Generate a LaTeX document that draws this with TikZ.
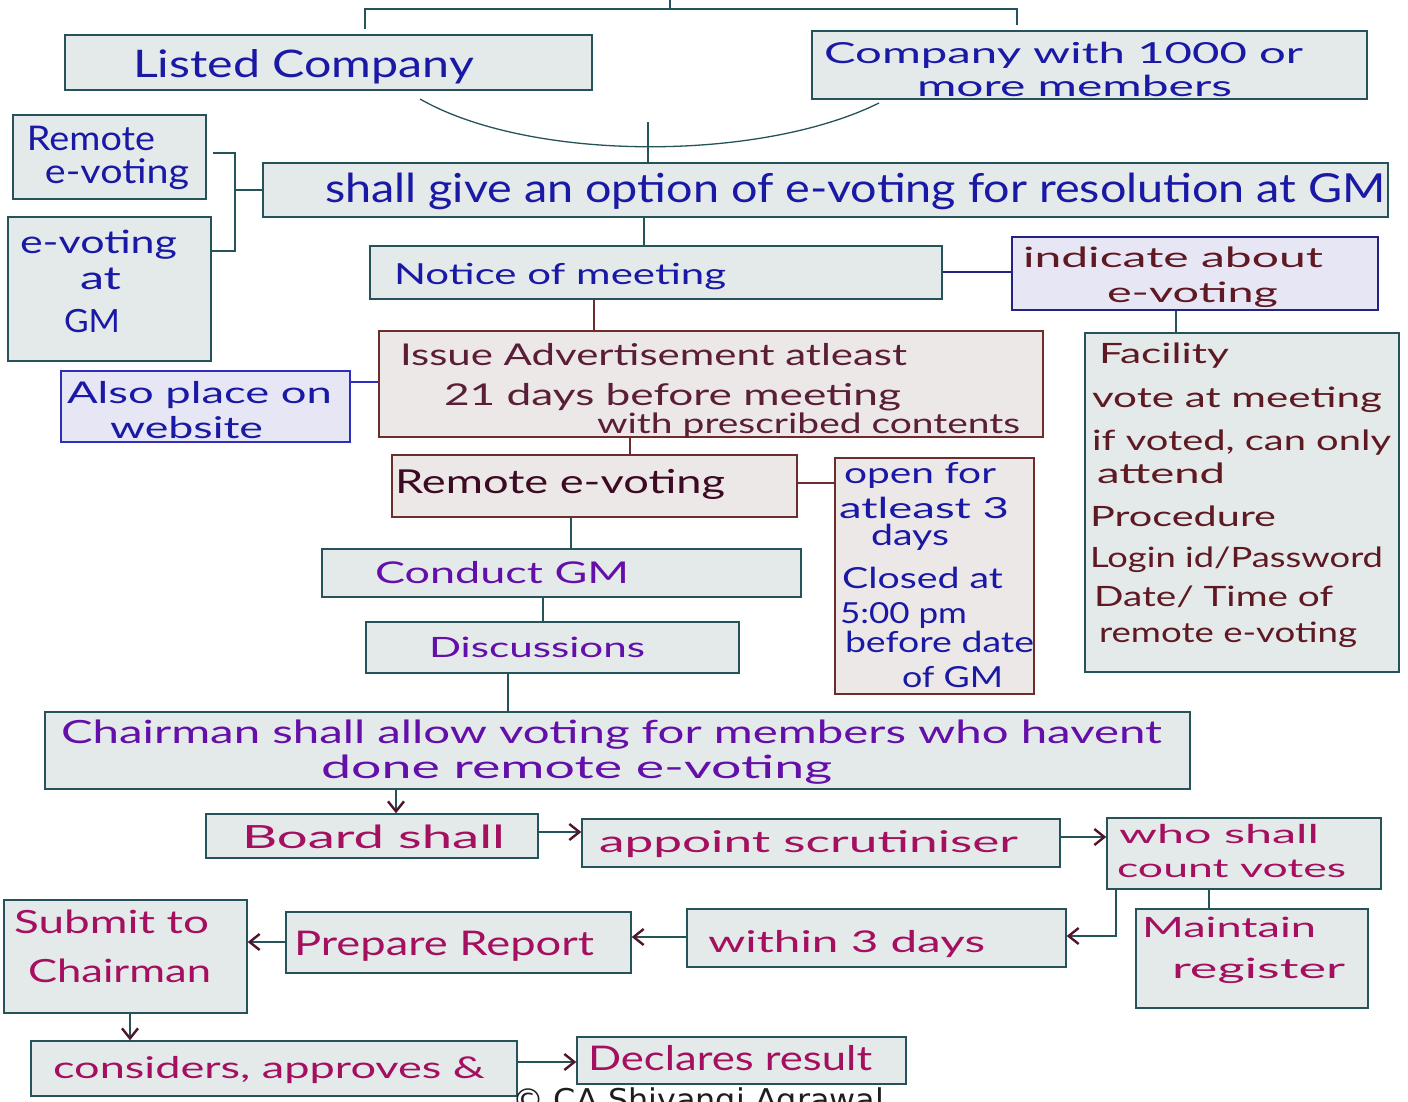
\documentclass[tikz,border=0pt]{standalone}
\usepackage{fontspec}
\usepackage{graphicx}
\newfontfamily\hand{Lato}
\newfontfamily\cprfont{DejaVu Sans}
\usetikzlibrary{arrows.meta,fit}
\definecolor{gfill}{RGB}{228,234,234}
\definecolor{pfill}{RGB}{237,232,232}
\definecolor{lfill}{RGB}{230,230,244}
\definecolor{teal}{RGB}{38,82,90}
\definecolor{mbord}{RGB}{110,45,45}
\definecolor{bbord}{RGB}{45,45,190}
\definecolor{navy}{RGB}{35,35,130}
\definecolor{tblue}{RGB}{25,25,165}
\definecolor{tmaroon}{RGB}{95,25,35}
\definecolor{tmar2}{RGB}{90,30,55}
\definecolor{tdark}{RGB}{60,10,35}
\definecolor{tpurple}{RGB}{100,15,170}
\definecolor{tmag}{RGB}{165,15,95}
\definecolor{arrc}{RGB}{80,20,45}
\newcommand\fw[3]{\resizebox{#1pt}{\height}{\fontsize{#2pt}{#2pt}\selectfont\hand #3}}
\tikzset{
  gbox/.style={draw=teal, fill=gfill, line width=1.5pt, inner sep=0pt},
  pbox/.style={draw=mbord, fill=pfill, line width=1.5pt, inner sep=0pt},
  lbox/.style={draw=bbord, fill=lfill, line width=1.5pt, inner sep=0pt},
  hw/.style={anchor=base west, inner sep=0pt, outer sep=0pt},
  cn/.style={draw=teal, line width=1.3pt},
  ar/.style={cn, -{Straight Barb[length=10pt,width=16pt,line width=2.4pt,color=arrc]}}
}
\begin{document}
\begin{tikzpicture}[x=1pt,y=-1pt]
\useasboundingbox (0,0) rectangle (1408,1101);
\fill[white] (0,0) rectangle (1408,1101);

% boxes
\node[gbox, fit={(65,35)(592,90)}] (lc) {};
\node[gbox, fit={(812,31)(1367,99)}] (cm) {};
\node[gbox, fit={(263,163)(1388,217)}] (sg) {};
\node[gbox, fit={(13,115)(206,199)}] (rv1) {};
\node[gbox, fit={(8,217)(211,361)}] (ev) {};
\node[gbox, fit={(370,246)(942,299)}] (nm) {};
\node[lbox, draw=navy, fit={(1012,237)(1378,310)}] (ind) {};
\node[gbox, fit={(1085,333)(1399,672)}] (fac) {};
\node[pbox, fit={(379,331)(1043,437)}] (ia) {};
\node[lbox, fit={(61,371)(350,442)}] (ap) {};
\node[pbox, fit={(392,455)(797,517)}] (rv2) {};
\node[pbox, fit={(835,458)(1034,694)}] (op) {};
\node[gbox, fit={(322,549)(801,597)}] (cg) {};
\node[gbox, fit={(366,622)(739,673)}] (ds) {};
\node[gbox, fit={(45,712)(1190,789)}] (ch) {};
\node[gbox, fit={(206,814)(538,858)}] (bs) {};
\node[gbox, fit={(582,819)(1060,867)}] (as) {};
\node[gbox, fit={(1107,818)(1381,889)}] (who) {};
\node[gbox, fit={(1136,909)(1368,1008)}] (mr) {};
\node[gbox, fit={(687,909)(1066,967)}] (wi) {};
\node[gbox, fit={(286,912)(631,973)}] (pr) {};
\node[gbox, fit={(4,900)(247,1013)}] (sc) {};
\node[gbox, fit={(31,1041)(517,1096)}] (co) {};
\node[gbox, fit={(577,1037)(906,1084)}] (dr) {};

% connectors
\coordinate (topL) at (365,29);
\coordinate (topR) at (1017,25);
\coordinate (topM) at (670,0);
\draw[cn] (topL) |- (topR |- 0,9) -- (topR);
\draw[cn] (topM) -- (670,9);
\coordinate (arcA) at (420,99);
\coordinate (arcB) at (879,103);
\coordinate (arcM) at (648,122);
\draw[cn] (arcA) .. controls (530,162) and (760,162) .. (arcB);
\draw[cn] (arcM) -- (sg.north -| 648,0);
\coordinate (brA) at (213,153);
\draw[cn] (brA) -| (235,251) -- (ev.east |- 0,251);
\draw[cn] (235,190) -- (sg.west |- 0,190);
\draw[cn] (sg.south -| 644,0) -- (nm.north -| 644,0);
\draw[draw=navy, line width=1.3pt] (nm.east |- 0,272) -- (ind.west |- 0,272);
\draw[draw=mbord, line width=1.3pt] (nm.south -| 594,0) -- (ia.north -| 594,0);
\draw[cn] (ind.south -| 1176,0) -- (fac.north -| 1176,0);
\draw[draw=bbord, line width=1.3pt] (ap.east |- 0,382) -- (ia.west |- 0,382);
\draw[draw=mbord, line width=1.3pt] (ia.south -| 630,0) -- (rv2.north -| 630,0);
\draw[draw=mbord, line width=1.3pt] (rv2.east |- 0,483) -- (op.west |- 0,483);
\draw[cn] (rv2.south -| 571,0) -- (cg.north -| 571,0);
\draw[cn] (cg.south -| 543,0) -- (ds.north -| 543,0);
\draw[cn] (ds.south -| 508,0) -- (ch.north -| 508,0);
\draw[ar] (ch.south -| 396,0) -- (bs.north -| 396,0);
\draw[ar] (bs.east |- 0,832) -- (as.west |- 0,832);
\draw[ar] (as.east |- 0,837) -- (who.west |- 0,837);
\draw[cn] (who.south -| 1209,0) -- (mr.north -| 1209,0);
\draw[ar] (who.south -| 1116,0) |- (wi.east |- 0,936);
\draw[ar] (wi.west |- 0,937) -- (pr.east |- 0,937);
\draw[ar] (pr.west |- 0,942) -- (sc.east |- 0,942);
\draw[ar] (sc.south -| 130,0) -- (co.north -| 130,0);
\draw[ar] (co.east |- 0,1062) -- (dr.west |- 0,1062);

% texts
\node[hw, text=tblue] (t1) at (133,77) {\fw{341}{38}{Listed Company}};
\node[hw, text=tblue] (t2) at (824,63) {\fw{479}{29}{Company with 1000 or}};
\node[hw, text=tblue] (t3) at (917,96) {\fw{315}{29}{more members}};
\node[hw, text=tblue] (t4) at (325,202) {\fw{1061}{40}{shall give an option of e-voting for resolution at GM}};
\node[hw, text=tblue] (t5) at (27,150) {\fw{128}{34}{Remote}};
\node[hw, text=tblue] (t6) at (45,183) {\fw{144}{34}{e-voting}};
\node[hw, text=tblue] (t7) at (20,253) {\fw{157}{32}{e-voting}};
\node[hw, text=tblue] (t8) at (80,289) {\fw{41}{32}{at}};
\node[hw, text=tblue] (t9) at (64,332) {\fw{56}{32}{GM}};
\node[hw, text=tblue] (t10) at (394,284) {\fw{332}{29}{Notice of meeting}};
\node[hw, text=tmaroon] (t11) at (1023,267) {\fw{300}{28}{indicate about}};
\node[hw, text=tmaroon] (t12) at (1107,302) {\fw{171}{28}{e-voting}};
\node[hw, text=tmaroon] (t13) at (1099,363) {\fw{130}{28}{Facility}};
\node[hw, text=tmaroon] (t14) at (1092,407) {\fw{290}{28}{vote at meeting}};
\node[hw, text=tmaroon] (t15) at (1092,450) {\fw{299}{28}{if voted, can only}};
\node[hw, text=tmaroon] (t16) at (1097,483) {\fw{128}{28}{attend}};
\node[hw, text=tmaroon] (t17) at (1090,526) {\fw{186}{28}{Procedure}};
\node[hw, text=tmaroon] (t18) at (1090,567) {\fw{293}{28}{Login id/Password}};
\node[hw, text=tmaroon] (t19) at (1094,606) {\fw{239}{28}{Date/ Time of}};
\node[hw, text=tmaroon] (t20) at (1099,642) {\fw{258}{28}{remote e-voting}};
\node[hw, text=tmar2] (t21) at (400,365) {\fw{507}{30}{Issue Advertisement atleast}};
\node[hw, text=tmar2] (t22) at (444,405) {\fw{457}{30}{21 days before meeting}};
\node[hw, text=tmar2] (t23) at (597,433) {\fw{423}{28}{with prescribed contents}};
\node[hw, text=tblue] (t24) at (67,403) {\fw{265}{30}{Also place on}};
\node[hw, text=tblue] (t25) at (110,438) {\fw{153}{30}{website}};
\node[hw, text=tdark] (t26) at (395,493) {\fw{330}{33}{Remote e-voting}};
\node[hw, text=tblue] (t27) at (844,483) {\fw{152}{29}{open for}};
\node[hw, text=tblue] (t28) at (839,518) {\fw{170}{29}{atleast 3}};
\node[hw, text=tblue] (t29) at (871,545) {\fw{78}{29}{days}};
\node[hw, text=tblue] (t30) at (842,588) {\fw{161}{29}{Closed at}};
\node[hw, text=tblue] (t31) at (840,623) {\fw{127}{29}{5:00 pm}};
\node[hw, text=tblue] (t32) at (845,652) {\fw{189}{29}{before date}};
\node[hw, text=tblue] (t33) at (902,687) {\fw{101}{29}{of GM}};
\node[hw, text=tpurple] (t34) at (375,583) {\fw{254}{30}{Conduct GM}};
\node[hw, text=tpurple] (t35) at (429,657) {\fw{216}{28}{Discussions}};
\node[hw, text=tpurple] (t36) at (61,743) {\fw{1101}{32}{Chairman shall allow voting for members who havent}};
\node[hw, text=tpurple] (t37) at (321,778) {\fw{511}{32}{done remote e-voting}};
\node[hw, text=tmag] (t38) at (242,848) {\fw{263}{32}{Board shall}};
\node[hw, text=tmag] (t39) at (599,852) {\fw{419}{30}{appoint scrutiniser}};
\node[hw, text=tmag] (t40) at (1119,843) {\fw{200}{26}{who shall}};
\node[hw, text=tmag] (t41) at (1117,877) {\fw{229}{26}{count votes}};
\node[hw, text=tmag] (t42) at (1142,937) {\fw{174}{28}{Maintain}};
\node[hw, text=tmag] (t43) at (1172,978) {\fw{173}{28}{register}};
\node[hw, text=tmag] (t44) at (708,952) {\fw{277}{30}{within 3 days}};
\node[hw, text=tmag] (t45) at (294,955) {\fw{300}{34}{Prepare Report}};
\node[hw, text=tmag] (t46) at (14,933) {\fw{195}{32}{Submit to}};
\node[hw, text=tmag] (t47) at (28,982) {\fw{183}{32}{Chairman}};
\node[hw, text=tmag] (t48) at (53,1078) {\fw{432}{30}{considers, approves \&}};
\node[hw, text=tmag] (t49) at (588,1070) {\fw{284}{34}{Declares result}};
\node[hw, text={rgb,255:red,30;green,30;blue,30}] (cpr) at (512,1110)
  {\resizebox{372pt}{\height}{\fontsize{30pt}{30pt}\selectfont\cprfont © CA Shivangi Agrawal}};
\end{tikzpicture}
\end{document}
